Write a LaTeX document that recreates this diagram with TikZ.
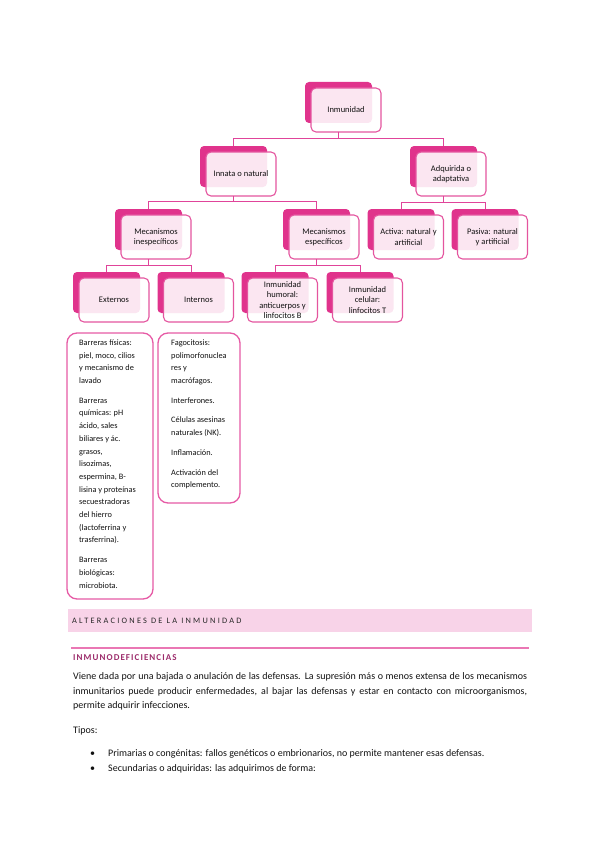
\documentclass[tikz,border=0pt]{standalone}
\usepackage{fontspec}
\setmainfont{Carlito}
\newfontfamily\hdrfont[LetterSpace=27]{Carlito}
\newfontfamily\subfont[LetterSpace=12]{Carlito}
\definecolor{backc}{HTML}{E0338C}
\definecolor{frontc}{HTML}{E4559F}
\definecolor{connc}{HTML}{E0449A}
\definecolor{listc}{HTML}{E65AA5}
\definecolor{hdrc}{HTML}{F8D3E8}
\definecolor{rulec}{HTML}{EA77B4}
\definecolor{subc}{HTML}{9C2C6B}
\definecolor{textc}{HTML}{111111}
\tikzset{
  backbox/.style={fill=backc, rounded corners=4pt, minimum width=67pt, minimum height=41pt, inner sep=0pt, outer sep=0pt, draw=none},
  frontbox/.style={draw=frontc, line width=1.1pt, fill=white, fill opacity=0.88, text opacity=1, rounded corners=5pt, minimum width=70pt, minimum height=44pt, inner sep=1pt, outer sep=0pt, align=center, font=\fontsize{8.5}{10.3}\selectfont, text=textc},
  conn/.style={draw=connc, line width=0.9pt},
  listbox/.style={draw=listc, line width=1.3pt, rounded corners=10pt, fill=white, inner sep=0pt},
  listtext/.style={align=left, inner sep=0pt, font=\fontsize{8.3}{12.7}\selectfont, text=textc, anchor=north west},
  bodytext/.style={inner sep=0pt, font=\fontsize{10}{14.5}\selectfont, text=textc},
}
\newcommand\smartbox[4]{%
  \node[backbox] (#1B) at (#2,#3) {};
  \node[frontbox] (#1) at (#2+7.5,#3+7.5) {#4};}
\begin{document}
\begin{tikzpicture}[x=1pt,y=-1pt]
\useasboundingbox (0,0) rectangle (599,848);
% hierarchy
\smartbox{inm}{338.5}{102.5}{Inmunidad}
\smartbox{inn}{233.5}{166.5}{Innata o natural}
\smartbox{adq}{443.5}{166.5}{Adquirida o\\adaptativa}
\smartbox{mi}{148.5}{229.5}{Mecanismos\\inespecíficos}
\smartbox{me}{316.5}{229.5}{Mecanismos\\específicos}
\smartbox{act}{401}{229.5}{Activa: natural y\\artificial}
\smartbox{pas}{485}{229.5}{Pasiva: natural\\y artificial}
\smartbox{ext}{106.5}{292.5}{Externos}
\smartbox{intn}{191}{292.5}{Internos}
\smartbox{hum}{275}{292.5}{Inmunidad\\humoral:\\anticuerpos y\\linfocitos B}
\smartbox{cel}{360}{292.5}{Inmunidad\\celular:\\linfocitos T}
% connectors
\draw[conn] (inmB.center |- inm.south) -- ++(0,6) -| (innB.north);
\draw[conn] (inmB.center |- inm.south) -- ++(0,6) -| (adqB.north);
\draw[conn] (innB.center |- inn.south) -- ++(0,5.5) -| (miB.north);
\draw[conn] (innB.center |- inn.south) -- ++(0,5.5) -| (meB.north);
\draw[conn] (adqB.center |- adq.south) -- ++(0,6) -| (actB.north);
\draw[conn] (adqB.center |- adq.south) -- ++(0,6) -| (pasB.north);
\draw[conn] (miB.center |- mi.south) -- ++(0,6.5) -| (extB.north);
\draw[conn] (miB.center |- mi.south) -- ++(0,6.5) -| (intnB.north);
\draw[conn] (meB.center |- me.south) -- ++(0,6.5) -| (humB.north);
\draw[conn] (meB.center |- me.south) -- ++(0,6.5) -| (celB.north);
% lists
\node[listbox, minimum width=86pt, minimum height=266pt] (l1) at (110,466) {};
\node[listtext] (l1t) at (79,339.5) {Barreras físicas:\\piel, moco, cilios\\y mecanismo de\\lavado\\[7pt]
Barreras\\químicas: pH\\ácido, sales\\biliares y ác.\\grasos,\\lisozimas,\\espermina, B-\\lisina y proteínas\\secuestradoras\\del hierro\\(lactoferrina y\\trasferrina).\\[7pt]
Barreras\\biológicas:\\microbiota.};
\node[listbox, minimum width=82pt, minimum height=170pt] (l2) at (199,418) {};
\node[listtext] (l2t) at (171,339.5) {Fagocitosis:\\polimorfonuclea\\res y\\macrófagos.\\[7pt]Interferones.\\[7pt]Células asesinas\\naturales (NK).\\[7pt]Inflamación.\\[7pt]Activación del\\complemento.};
% section header
\node[fill=hdrc, minimum width=464pt, minimum height=23pt, inner sep=0pt] (hdr) at (300,620.5) {};
\node[anchor=west, inner sep=0pt, font=\hdrfont\fontsize{8.3}{10}\selectfont, text=black!85] (hdrt) at (72,620.5) {ALTERACIONES DE LA INMUNIDAD};
\draw[rulec, line width=1.2pt] (71,648) -- (529,648);
\node[anchor=base west, inner sep=0pt, font=\subfont\bfseries\fontsize{9}{10}\selectfont, text=subc] (sub) at (73,660.5) {INMUNODEFICIENCIAS};
\node[bodytext, anchor=north west, text width=454pt, align=justify] (par) at (73,672.5) {\noindent Viene dada por una bajada o anulación de las defensas. La supresión más o menos extensa de los mecanismos\linebreak inmunitarios puede producir enfermedades, al bajar las defensas y estar en contacto con microorganismos,\linebreak permite adquirir infecciones.};
\node[bodytext, anchor=base west] (tipos) at (73,733.5) {Tipos:};
\node[bodytext, anchor=base west] (b1) at (90,756.5) {•};
\node[bodytext, anchor=base west] (t1) at (108,756.5) {Primarias o congénitas: fallos genéticos o embrionarios, no permite mantener esas defensas.};
\node[bodytext, anchor=base west] (b2) at (90,771.5) {•};
\node[bodytext, anchor=base west] (t2) at (108,771.5) {Secundarias o adquiridas: las adquirimos de forma:};
\end{tikzpicture}
\end{document}
